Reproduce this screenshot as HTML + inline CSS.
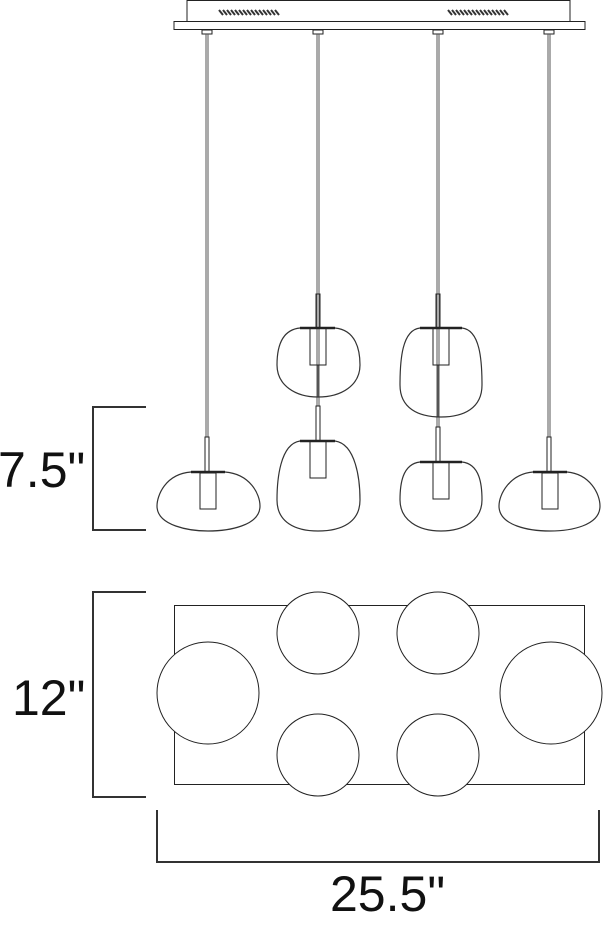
<!DOCTYPE html>
<html><head><style>html,body{margin:0;padding:0;background:#fff;width:603px;height:925px;overflow:hidden}
svg{display:block}
text{font-family:"Liberation Sans",sans-serif;font-size:50px;fill:#111}</style></head><body>
<svg width="603" height="925" viewBox="0 0 603 925" xmlns="http://www.w3.org/2000/svg">
<g fill="none" stroke="#222" stroke-width="1">
<!-- canopy -->
<rect x="187" y="0.5" width="383" height="21" />
<rect x="174" y="21.5" width="411" height="8" />
<g stroke-width="2" stroke="#333">
<path d="M219 10l4 5M223 10l4 5M227 10l4 5M231 10l4 5M235 10l4 5M239 10l4 5M243 10l4 5M247 10l4 5M251 10l4 5M255 10l4 5M259 10l4 5M263 10l4 5M267 10l4 5M271 10l4 5M275 10l4 5"/>
<path d="M448 10l4 5M452 10l4 5M456 10l4 5M460 10l4 5M464 10l4 5M468 10l4 5M472 10l4 5M476 10l4 5M480 10l4 5M484 10l4 5M488 10l4 5M492 10l4 5M496 10l4 5M500 10l4 5M504 10l4 5"/>
</g>
<!-- cord connectors -->
<rect x="202" y="30" width="10" height="4"/><rect x="313" y="30" width="10" height="4"/>
<rect x="433" y="30" width="10" height="4"/><rect x="544" y="30" width="10" height="4"/>
<!-- cords -->
<path d="M206 34V437M208 34V437M317 34V406M319 34V406M437 34V427M439 34V427M548 34V437M550 34V437" stroke="#555"/>
<!-- thick stems -->
<rect x="205" y="437" width="4" height="35"/><rect x="316" y="294" width="4" height="34"/><rect x="316" y="406" width="4" height="35"/>
<rect x="436" y="294" width="4" height="34"/><rect x="436" y="427" width="4" height="35"/><rect x="547" y="437" width="4" height="35"/>
<path d="M318 365V397M438 365V417" stroke="#555"/>
<!-- shades -->
<g stroke="#333" stroke-width="1.2">
<path d="M191 472 C165 474 157 496 157 506 C157 526 190 531 208 531 C228 531 260 526 260 506 C260 494 250 474 225 472 Z"/>
<path d="M300 328 C280 330 277 350 277 365 C277 385 295 397 318 397 C342 397 360 385 360 365 C360 350 356 330 335 328 Z"/>
<path d="M300 441 C280 444 277 480 277 500 C277 522 295 531 318 531 C342 531 360 522 360 500 C360 480 356 444 335 441 Z"/>
<path d="M420 328 C402 330 400 360 400 385 C400 408 418 417 441 417 C464 417 482 408 482 385 C482 360 480 330 462 328 Z"/>
<path d="M420 462 C402 464 400 485 400 500 C400 520 418 531 441 531 C464 531 482 520 482 500 C482 485 480 464 462 462 Z"/>
<path d="M533 472 C510 474 499 494 499 506 C499 526 530 531 550 531 C570 531 600 526 600 506 C600 494 590 474 567 472 Z"/>
</g>
<path d="M191 472H225M300 328H335M300 441H335M420 328H462M420 462H462M533 472H567" stroke-width="2.5"/>
<rect x="200" y="473" width="16" height="36"/><rect x="310" y="328" width="16" height="37"/><rect x="310" y="441" width="16" height="37"/>
<rect x="433" y="328" width="16" height="37"/><rect x="433" y="462" width="16" height="37"/><rect x="542" y="473" width="16" height="36"/>
<!-- plan view -->
<rect x="174.5" y="605.5" width="410" height="179"/>
<g fill="#fff">
<circle cx="208" cy="693" r="51"/><circle cx="551" cy="693" r="51"/>
<circle cx="318" cy="633" r="41"/><circle cx="438" cy="633" r="41"/>
<circle cx="318" cy="755" r="41"/><circle cx="438" cy="755" r="41"/>
</g>
<!-- dimension brackets -->
<g stroke="#333" stroke-width="2">
<path d="M146 407H93V530H146"/>
<path d="M146 592H93V797H146"/>
<path d="M157 810V862H599V810"/>
</g>
</g>
<text x="-2" y="487">7.5"</text>
<text x="12" y="715">12"</text>
<text x="330" y="911">25.5"</text>
</svg>
</body></html>
